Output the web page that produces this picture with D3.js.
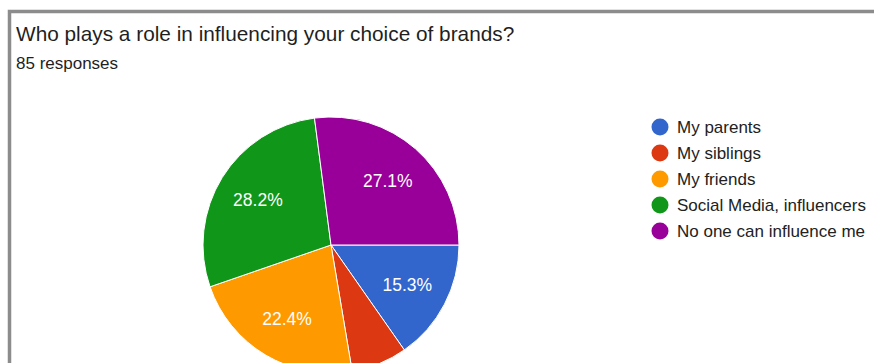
<!DOCTYPE html>
<html>
<head>
<meta charset="utf-8">
<script src="https://cdn.jsdelivr.net/npm/d3@7"></script>
<style>
  html, body { margin: 0; padding: 0; background: #fff; }
  svg { display: block; font-family: "Liberation Sans", Arial, sans-serif; }
</style>
</head>
<body>
<svg id="chart" width="874" height="363"></svg>
<script>
// Survey answers (85 responses)
const categories = ["My parents", "My siblings", "My friends", "Social Media, influencers", "No one can influence me"];
const counts = [13, 6, 19, 24, 23];
const colors = ["#3366cc", "#dc3912", "#ff9900", "#109618", "#990099"];
const title = "Who plays a role in influencing your choice of brands?";
const subtitle = "85 responses";

const total = d3.sum(counts);
const svg = d3.select("#chart");

// card outline
svg.append("rect")
  .attr("x", 9.5).attr("y", 11.5)
  .attr("width", 900).attr("height", 400)
  .attr("fill", "#fff")
  .attr("stroke", "#8c8c8c")
  .attr("stroke-width", 3.5);

svg.append("text")
  .attr("x", 16).attr("y", 41)
  .attr("font-size", 20.8)
  .attr("fill", "#1f1f1f")
  .text(title);

svg.append("text")
  .attr("x", 16).attr("y", 69)
  .attr("font-size", 17)
  .attr("fill", "#1f1f1f")
  .text(subtitle);

// pie, first slice starting at 3 o'clock, clockwise
const cx = 331, cy = 245, r = 128;
const pie = d3.pie().sort(null)
  .startAngle(Math.PI / 2)
  .endAngle(Math.PI / 2 + 2 * Math.PI)
  .value(d => d);
const arcs = pie(counts);
const arc = d3.arc().innerRadius(0).outerRadius(r);
const labelArc = d3.arc().innerRadius(86).outerRadius(86);

const g = svg.append("g").attr("transform", `translate(${cx},${cy})`);
g.selectAll("path.slice")
  .data(arcs)
  .join("path")
  .attr("class", "slice")
  .attr("d", arc)
  .attr("fill", (d, i) => colors[i])
  .attr("stroke", "#fff")
  .attr("stroke-width", 1);

g.selectAll("text.pct")
  .data(arcs.filter(d => d.value / total >= 0.1))
  .join("text")
  .attr("class", "pct")
  .attr("transform", d => `translate(${labelArc.centroid(d)})`)
  .attr("text-anchor", "middle")
  .attr("dy", "0.36em")
  .attr("font-size", 17.5)
  .attr("fill", "#fff")
  .text(d => (d.value / total * 100).toFixed(1) + "%");

// legend
const legend = svg.append("g").attr("transform", "translate(660,127)");
const items = legend.selectAll("g")
  .data(categories)
  .join("g")
  .attr("transform", (d, i) => `translate(0,${i * 26})`);
items.append("circle")
  .attr("r", 8.5)
  .attr("fill", (d, i) => colors[i]);
items.append("text")
  .attr("x", 17)
  .attr("dy", "0.36em")
  .attr("font-size", 17)
  .attr("fill", "#222")
  .text(d => d);
</script>
</body>
</html>
